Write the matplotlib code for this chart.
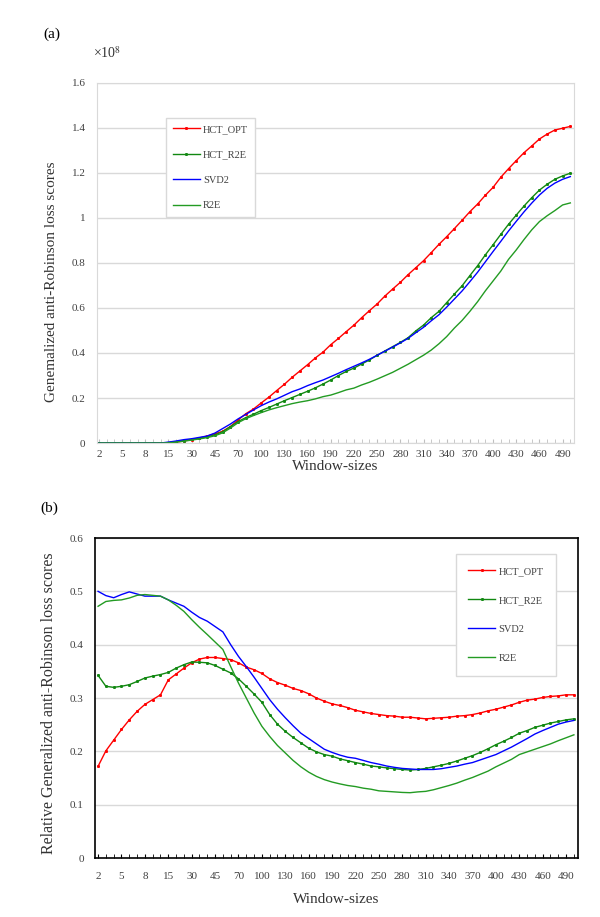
import matplotlib.pyplot as plt
import numpy as np

plt.rcParams['font.family'] = ['Liberation Serif', 'DejaVu Serif']
plt.rcParams['mathtext.fontset'] = 'stix'

window_sizes = [2, 3, 4, 5, 6, 7, 8, 9, 10, 15, 20, 25, 30, 35, 40, 45, 50,
                60, 70, 80, 90, 100, 110, 120, 130, 140, 150, 160, 170, 180,
                190, 200, 210, 220, 230, 240, 250, 260, 270, 280, 290, 300,
                310, 320, 330, 340, 350, 360, 370, 380, 390, 400, 410, 420,
                430, 440, 450, 460, 470, 480, 490, 500]

# panel (a), units of 1e8
a_hct_opt = [0, 0, 0, 0, 0, 0, 0, 0, 0, 0.001, 0.004, 0.009, 0.015, 0.022,
             0.031, 0.041, 0.052, 0.073, 0.102, 0.130, 0.151, 0.178, 0.204,
             0.233, 0.261, 0.292, 0.320, 0.348, 0.378, 0.404, 0.437, 0.465,
             0.495, 0.524, 0.557, 0.588, 0.618, 0.653, 0.684, 0.714, 0.748,
             0.779, 0.810, 0.846, 0.883, 0.917, 0.953, 0.990, 1.028, 1.062,
             1.101, 1.136, 1.181, 1.219, 1.255, 1.290, 1.320, 1.351, 1.373,
             1.391, 1.399, 1.407]
a_hct_r2e = [0, 0, 0, 0, 0, 0, 0, 0, 0, 0.002, 0.006, 0.011, 0.016, 0.021,
             0.027, 0.036, 0.050, 0.072, 0.095, 0.113, 0.128, 0.144, 0.158,
             0.173, 0.188, 0.202, 0.216, 0.230, 0.245, 0.262, 0.280, 0.300,
             0.318, 0.333, 0.351, 0.369, 0.390, 0.409, 0.428, 0.447, 0.468,
             0.498, 0.524, 0.557, 0.585, 0.624, 0.662, 0.699, 0.744, 0.788,
             0.836, 0.881, 0.927, 0.972, 1.013, 1.053, 1.090, 1.124, 1.150,
             1.172, 1.187, 1.199]
a_svd2 = [0, 0, 0, 0, 0, 0, 0, 0, 0, 0.004, 0.009, 0.015, 0.019, 0.025,
          0.031, 0.044, 0.064, 0.084, 0.107, 0.127, 0.147, 0.166, 0.182,
          0.196, 0.212, 0.228, 0.240, 0.255, 0.268, 0.280, 0.295, 0.310,
          0.326, 0.341, 0.356, 0.372, 0.390, 0.408, 0.426, 0.445, 0.465,
          0.490, 0.514, 0.543, 0.570, 0.604, 0.640, 0.676, 0.717, 0.759,
          0.805, 0.851, 0.896, 0.942, 0.985, 1.027, 1.066, 1.102, 1.132,
          1.155, 1.172, 1.184]
a_r2e = [0, 0, 0, 0, 0, 0, 0, 0, 0, 0.001, 0.004, 0.008, 0.013, 0.018,
         0.024, 0.032, 0.045, 0.066, 0.090, 0.108, 0.122, 0.135, 0.147,
         0.157, 0.166, 0.175, 0.182, 0.188, 0.196, 0.206, 0.213, 0.224,
         0.236, 0.244, 0.258, 0.270, 0.284, 0.299, 0.314, 0.332, 0.350,
         0.370, 0.390, 0.413, 0.441, 0.473, 0.511, 0.545, 0.585, 0.628,
         0.676, 0.720, 0.764, 0.816, 0.858, 0.904, 0.947, 0.984, 1.010,
         1.033, 1.058, 1.067]

# panel (b), relative scores
b_hct_opt = [0.172, 0.201, 0.221, 0.241, 0.259, 0.275, 0.288, 0.297, 0.306,
             0.334, 0.345, 0.356, 0.366, 0.373, 0.376, 0.376, 0.374, 0.372,
             0.366, 0.358, 0.353, 0.346, 0.336, 0.329, 0.324, 0.318, 0.314,
             0.308, 0.300, 0.294, 0.289, 0.286, 0.282, 0.277, 0.274, 0.271,
             0.269, 0.267, 0.266, 0.264, 0.264, 0.2625, 0.261, 0.262, 0.263,
             0.264, 0.266, 0.267, 0.269, 0.272, 0.276, 0.279, 0.283, 0.287,
             0.292, 0.296, 0.298, 0.301, 0.303, 0.304, 0.306, 0.306]
b_hct_r2e = [0.3425, 0.322, 0.320, 0.322, 0.325, 0.331, 0.3375, 0.341, 0.344,
             0.348, 0.356, 0.3625, 0.3675, 0.367, 0.366, 0.361, 0.354, 0.347,
             0.336, 0.322, 0.3075, 0.292, 0.269, 0.251, 0.2375, 0.226, 0.216,
             0.206, 0.199, 0.194, 0.191, 0.186, 0.1825, 0.179, 0.176, 0.1725,
             0.171, 0.169, 0.1675, 0.166, 0.165, 0.166, 0.168, 0.171, 0.174,
             0.1775, 0.182, 0.187, 0.192, 0.198, 0.205, 0.2125, 0.219, 0.226,
             0.234, 0.239, 0.245, 0.249, 0.253, 0.256, 0.259, 0.261]
b_svd2 = [0.500, 0.492, 0.488, 0.494, 0.499, 0.495, 0.491, 0.491, 0.491,
          0.484, 0.478, 0.472, 0.461, 0.451, 0.444, 0.434, 0.424, 0.400,
          0.378, 0.359, 0.339, 0.318, 0.297, 0.279, 0.263, 0.248, 0.234,
          0.224, 0.214, 0.204, 0.198, 0.193, 0.189, 0.187, 0.183, 0.179,
          0.176, 0.1725, 0.170, 0.168, 0.167, 0.166, 0.166, 0.166, 0.1675,
          0.170, 0.1725, 0.176, 0.179, 0.184, 0.189, 0.194, 0.201, 0.208,
          0.216, 0.224, 0.2325, 0.239, 0.245, 0.251, 0.255, 0.258]
b_r2e = [0.472, 0.481, 0.483, 0.484, 0.4875, 0.4925, 0.494, 0.4925, 0.491,
         0.484, 0.474, 0.4625, 0.447, 0.4325, 0.419, 0.405, 0.391, 0.359,
         0.328, 0.300, 0.272, 0.247, 0.228, 0.211, 0.197, 0.183, 0.171,
         0.161, 0.153, 0.147, 0.1425, 0.139, 0.136, 0.134, 0.131, 0.129,
         0.126, 0.125, 0.124, 0.123, 0.1225, 0.124, 0.125, 0.128, 0.132,
         0.136, 0.1405, 0.146, 0.151, 0.157, 0.163, 0.171, 0.178, 0.185,
         0.194, 0.199, 0.204, 0.209, 0.214, 0.220, 0.2255, 0.231]

names = ['HCT_OPT', 'HCT_R2E', 'SVD2', 'R2E']
colors = ['#ff0000', '#118811', '#0000ff', '#239b23']
markers = ['s', 's', None, None]

x = np.arange(len(window_sizes))
tick_idx = x[::3][:21]


def draw(ax, series, spine_col, tick_col, pad):
    for s, name, c, m in zip(series, names, colors, markers):
        ax.plot(x, s, color=c, lw=1.0, marker=m, ms=1.1, label=name)
    ax.set_xticks(tick_idx)
    ax.set_xticklabels([str(window_sizes[i]) for i in tick_idx])
    ax.set_xticks(x, minor=True)
    ax.tick_params(axis='x', which='both', direction='in', length=3,
                   color=tick_col, labelsize=8, labelcolor='#404040', pad=pad)
    ax.tick_params(axis='y', length=0, labelsize=8, labelcolor='#404040', pad=8)
    ax.grid(axis='y', color='#d9d9d9', lw=1)
    ax.set_axisbelow(True)
    for sp in ax.spines.values():
        sp.set_color(spine_col)


fig = plt.figure(figsize=(6, 9.17), dpi=100)

ax1 = fig.add_axes([0.161, 0.5169, 0.796, 0.3926])
draw(ax1, [a_hct_opt, a_hct_r2e, a_svd2, a_r2e], '#d9d9d9', '#bfbfbf', 5)
ax1.set_xlim(-0.3, 61.5)
ax1.set_ylim(0, 1.6)
ax1.set_yticks(np.arange(0, 1.61, 0.2))
ax1.set_yticklabels(['0', '0.2', '0.4', '0.6', '0.8', '1', '1.2', '1.4', '1.6'])
ax1.set_ylabel('Genemalized anti-Robinson loss scores', fontsize=11, color='#333333')
ax1.yaxis.set_label_coords(-0.081, 0.447)
ax1.set_xlabel('Window-sizes', fontsize=11, color='#333333', labelpad=1)
ax1.legend(loc='upper left', bbox_to_anchor=(0.145, 0.903), borderaxespad=0,
           fontsize=7.5, labelspacing=1.55, handlelength=2.6, handletextpad=0.3,
           borderpad=0.65, fancybox=False, edgecolor='#d9d9d9', framealpha=1,
           labelcolor='#404040')
fig.text(0.155, 1 - 53 / 917, r'×10$^{8}$', fontsize=10, color='#333333',
         va='center', ha='left')
fig.text(0.072, 1 - 34 / 917, '(a)', fontsize=11, va='center', ha='left')

ax2 = fig.add_axes([0.158, 0.0643, 0.805, 0.349])
draw(ax2, [b_hct_opt, b_hct_r2e, b_svd2, b_r2e], '#000000', '#000000', 10)
for sp in ax2.spines.values():
    sp.set_linewidth(1.2)
ax2.set_xlim(-0.42, 61.5)
ax2.set_ylim(0, 0.6)
ax2.set_yticks(np.arange(0, 0.61, 0.1))
ax2.set_yticklabels(['0', '0.1', '0.2', '0.3', '0.4', '0.5', '0.6'])
ax2.set_ylabel('Relative Generalized anti-Robinson loss scores', fontsize=11.5,
               color='#333333')
ax2.yaxis.set_label_coords(-0.079, 0.483)
ax2.set_xlabel('Window-sizes', fontsize=11, color='#333333', labelpad=9)
ax2.legend(loc='upper left', bbox_to_anchor=(0.747, 0.95), borderaxespad=0,
           fontsize=7.5, labelspacing=1.9, handlelength=2.6, handletextpad=0.3,
           borderpad=1.2, fancybox=False, edgecolor='#d9d9d9', framealpha=1,
           labelcolor='#404040')
fig.text(0.068, 1 - 508 / 917, '(b)', fontsize=11, va='center', ha='left')

fig.savefig('out.png', dpi=100)
